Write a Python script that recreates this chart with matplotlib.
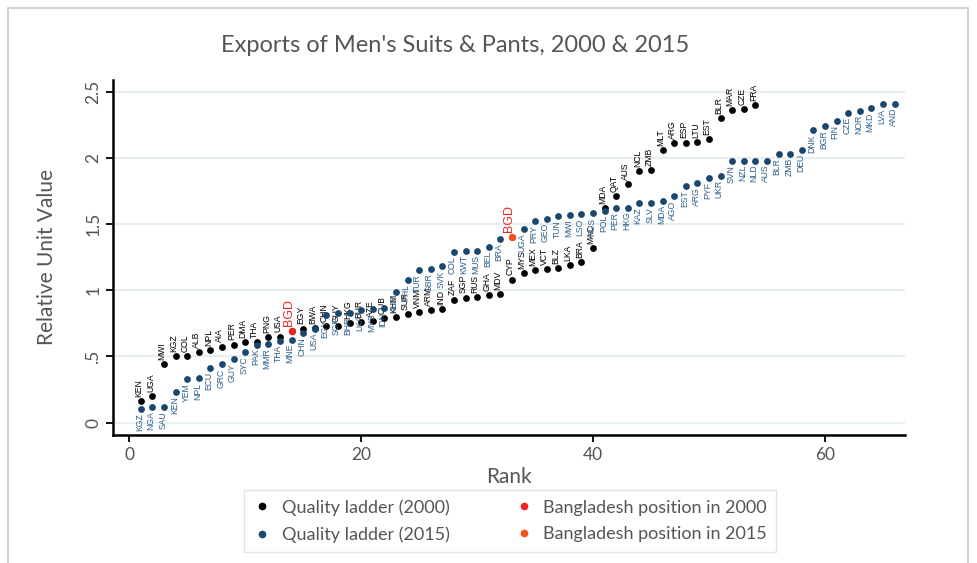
import matplotlib
matplotlib.use("Agg")
import matplotlib.pyplot as plt
from matplotlib.lines import Line2D
from matplotlib.patches import Rectangle

# quality ladder 2000 (rank = position in list, starting at 1)
labels_2000 = ["KEN", "UGA", "MWI", "KGZ", "COL", "ALB", "NPL", "AIA", "PER", "DMA",
               "THA", "PNG", "USA", "BGD", "EGY", "BWA", "CHN", "GUY", "HKG", "BUR",
               "AZE", "CUB", "KHM", "SUR", "VNM", "ARM", "IND", "ZAF", "SGP", "RUS",
               "GHA", "MDV", "CYP", "MYS", "MEX", "VCT", "BLZ", "LKA", "BRA", "MAC",
               "MDA", "QAT", "AUS", "NCL", "ZMB", "MLT", "ARG", "ESP", "LTU", "EST",
               "BLR", "MAR", "CZE", "FRA"]
values_2000 = [0.16, 0.20, 0.44, 0.50, 0.50, 0.53, 0.55, 0.575, 0.59, 0.61,
               0.61, 0.645, 0.65, 0.69, 0.71, 0.715, 0.73, 0.73, 0.75, 0.76,
               0.77, 0.79, 0.80, 0.82, 0.835, 0.85, 0.86, 0.93, 0.945, 0.95,
               0.965, 0.97, 1.08, 1.13, 1.155, 1.16, 1.17, 1.19, 1.21, 1.32,
               1.62, 1.71, 1.80, 1.90, 1.91, 2.06, 2.11, 2.115, 2.12, 2.14,
               2.30, 2.36, 2.37, 2.40]

# quality ladder 2015
labels_2015 = ["KGZ", "NGA", "SAU", "KEN", "YEM", "NPL", "ECU", "GRC", "GUY", "SYC",
               "PAK", "MMR", "THA", "MNE", "CHN", "USA", "EGY", "SGP", "BHR", "LKA",
               "MYS", "IDN", "ALB", "PHL", "TUR", "GBR", "SVK", "COL", "KWT", "MUS",
               "BEL", "BRA", "BGD", "UGA", "PRY", "GEO", "TUN", "MWI", "LSO", "RUS",
               "POL", "PER", "HKG", "KAZ", "SLV", "MDA", "AGO", "EST", "ARG", "PYF",
               "UKR", "SVN", "NZL", "NLD", "AUS", "BLR", "ZMB", "DEU", "DNK", "BGR",
               "FIN", "CZE", "NOR", "MKD", "LVA", "AND"]
values_2015 = [0.10, 0.12, 0.12, 0.23, 0.33, 0.335, 0.415, 0.44, 0.48, 0.53,
               0.59, 0.595, 0.62, 0.625, 0.68, 0.71, 0.81, 0.83, 0.83, 0.85,
               0.86, 0.865, 0.99, 1.08, 1.15, 1.16, 1.18, 1.29, 1.30, 1.30,
               1.33, 1.39, 1.40, 1.46, 1.525, 1.54, 1.56, 1.57, 1.575, 1.58,
               1.60, 1.625, 1.625, 1.66, 1.66, 1.675, 1.71, 1.79, 1.81, 1.845,
               1.865, 1.98, 1.98, 1.98, 1.98, 2.03, 2.03, 2.06, 2.21, 2.24,
               2.28, 2.34, 2.355, 2.375, 2.405, 2.41]

highlight = "BGD"
y_ticks = [0, 0.5, 1, 1.5, 2, 2.5]
y_ticklabels = ["0", ".5", "1", "1.5", "2", "2.5"]
x_ticks = [0, 20, 40, 60]

c_2000 = "#000000"
c_2015 = "#1a476f"
c_2015_txt = "#2e5f8c"
c_bgd_2000 = "#ef2525"
c_bgd_2015 = "#f4511e"
txt_gray = "#555555"
lab_font = ["Liberation Sans", "DejaVu Sans"]

plt.rcParams['font.family'] = ['Lato', 'DejaVu Sans']

fig = plt.figure(figsize=(9.77, 5.63), dpi=100)
ax = fig.add_axes([0.1157, 0.2274, 0.8106, 0.6305])

# outer frame
fig.patches.append(Rectangle((8 / 977, -0.01), (968 - 8) / 977, 1 - 8 / 563 + 0.01,
                             transform=fig.transFigure, fill=False,
                             edgecolor="#c9c9c9", linewidth=1.2))

for y in y_ticks:
    ax.axhline(y, color="#e8eff1", linewidth=1.6, zorder=0)

ranks_2000 = list(range(1, len(values_2000) + 1))
ranks_2015 = list(range(1, len(values_2015) + 1))

ax.scatter(ranks_2000, values_2000, s=24, color=c_2000, zorder=3, linewidths=0)
ax.scatter(ranks_2015, values_2015, s=24, color=c_2015, zorder=4, linewidths=0)

i0 = labels_2000.index(highlight)
i1 = labels_2015.index(highlight)
ax.scatter([ranks_2000[i0]], [values_2000[i0]], s=28, color=c_bgd_2000, zorder=5, linewidths=0)
ax.scatter([ranks_2015[i1]], [values_2015[i1]], s=28, color=c_bgd_2015, zorder=5, linewidths=0)

# labels: 2000 above, 2015 below
for r, v, lab in zip(ranks_2000, values_2000, labels_2000):
    if lab == highlight:
        ax.annotate(lab, (r, v), xytext=(-2, 4), textcoords="offset points",
                    rotation=90, ha="center", va="bottom", fontsize=9,
                    color=c_bgd_2000, family=lab_font)
    else:
        ax.annotate(lab, (r, v), xytext=(-1.5, 3), textcoords="offset points",
                    rotation=90, ha="center", va="bottom", fontsize=6.2,
                    color=c_2000, family=lab_font)

for r, v, lab in zip(ranks_2015, values_2015, labels_2015):
    if lab == highlight:
        ax.annotate(lab, (r, v), xytext=(-2, 4), textcoords="offset points",
                    rotation=90, ha="center", va="bottom", fontsize=9,
                    color=c_bgd_2000, family=lab_font)
    else:
        ax.annotate(lab, (r, v), xytext=(-1, -3), textcoords="offset points",
                    rotation=90, ha="center", va="top", fontsize=6.2,
                    color=c_2015_txt, family=lab_font)

ax.set_xlim(-1.4, 66.9)
ax.set_ylim(-0.093, 2.588)
ax.set_xticks(x_ticks)
ax.set_yticks(y_ticks)
ax.set_yticklabels(y_ticklabels, rotation=90, va="center")
ax.tick_params(axis="both", colors="black", labelcolor=txt_gray, labelsize=12.5,
               length=5, width=1.3)
for side in ["top", "right"]:
    ax.spines[side].set_visible(False)
for side in ["left", "bottom"]:
    ax.spines[side].set_linewidth(1.8)

ax.set_xlabel("Rank", fontsize=15, color=txt_gray, labelpad=3)
ax.set_ylabel("Relative Unit Value", fontsize=15, color=txt_gray, labelpad=20)
fig.text(0.466, 0.92, "Exports of Men's Suits & Pants, 2000 & 2015",
         ha="center", va="center", fontsize=17, color=txt_gray)

handles = [
    Line2D([], [], marker="o", linestyle="", markersize=4.5, color=c_2000),
    Line2D([], [], marker="o", linestyle="", markersize=4.5, color=c_2015),
    Line2D([], [], marker="o", linestyle="", markersize=4.5, color=c_bgd_2000),
    Line2D([], [], marker="o", linestyle="", markersize=4.5, color=c_bgd_2015),
]
names = ["Quality ladder (2000)", "Quality ladder (2015)",
         "Bangladesh position in 2000", "Bangladesh position in 2015"]
leg = fig.legend(handles, names, ncol=2, loc="center",
                 bbox_to_anchor=(0.522, 0.0746), fontsize=13, frameon=True,
                 fancybox=False, edgecolor="#d7dfe2", handletextpad=0.6,
                 columnspacing=3.6, borderpad=0.5, labelspacing=0.6,
                 handlelength=1.0, borderaxespad=0)
for t in leg.get_texts():
    t.set_color(txt_gray)

fig.savefig("out.png", dpi=100)
